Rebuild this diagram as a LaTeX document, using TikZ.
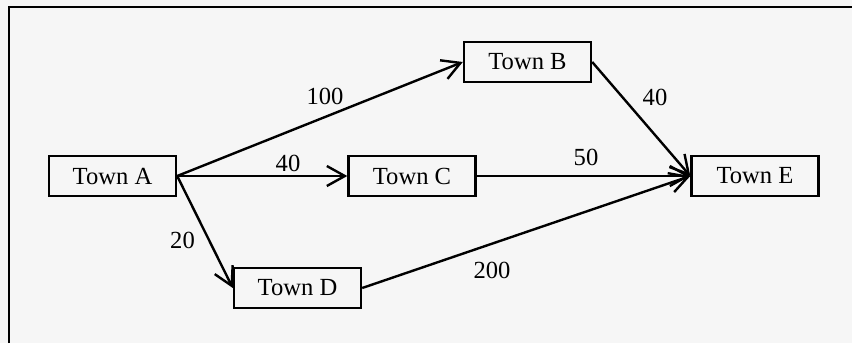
\documentclass[tikz,border=0pt]{standalone}
\usepackage{fontspec}
\setmainfont{Liberation Serif}
\usetikzlibrary{arrows.meta}
\definecolor{paper}{RGB}{246,246,246}
\tikzset{
  town/.style={draw=black, line width=1.2pt, minimum width=63.5pt,
    minimum height=20pt, inner sep=0pt, font=\fontsize{12.3}{14}\selectfont},
  dist/.style={inner sep=0pt, font=\fontsize{12.3}{14}\selectfont},
  road/.style={line width=1.2pt, -{Straight Barb[length=9pt,width=10pt,line width=1.2pt]}},
}
\begin{document}
\begin{tikzpicture}[x=0.5pt, y=-0.5pt]
  % page and frame
  \fill[paper] (0,0) rectangle (852,343);
  \useasboundingbox (0,0) rectangle (852,343);
  \coordinate (fl) at (9,343);
  \coordinate (ftl) at (9,7);
  \coordinate (ftr) at (852,7);
  \draw[line width=1.1pt] (fl) -- (ftl) -- (ftr);

  % towns
  \node[town] (A) at (112.5,176) {Town A};
  \node[town] (B) at (527.5,62)  {Town B};
  \node[town] (C) at (412,176)   {Town C};
  \node[town] (D) at (297.5,288) {Town D};
  \node[town] (E) at (755,176)   {Town E};

  % roads
  \draw[road] (A.east) -- (B.west);
  \draw[road] (A.east) -- (C.west);
  \draw[road] (A.east) -- (D.west);
  \draw[road] (B.east) -- (E.west);
  \draw[road] (C.east) -- (E.west);
  \draw[road] (D.east) -- (E.west);

  % distances
  \node[dist] (dAB) at (325,96)  {100};
  \node[dist] (dAC) at (288,163) {40};
  \node[dist] (dAD) at (182.5,240) {20};
  \node[dist] (dBE) at (655,97)  {40};
  \node[dist] (dCE) at (586,157) {50};
  \node[dist] (dDE) at (492,270) {200};
\end{tikzpicture}
\end{document}
